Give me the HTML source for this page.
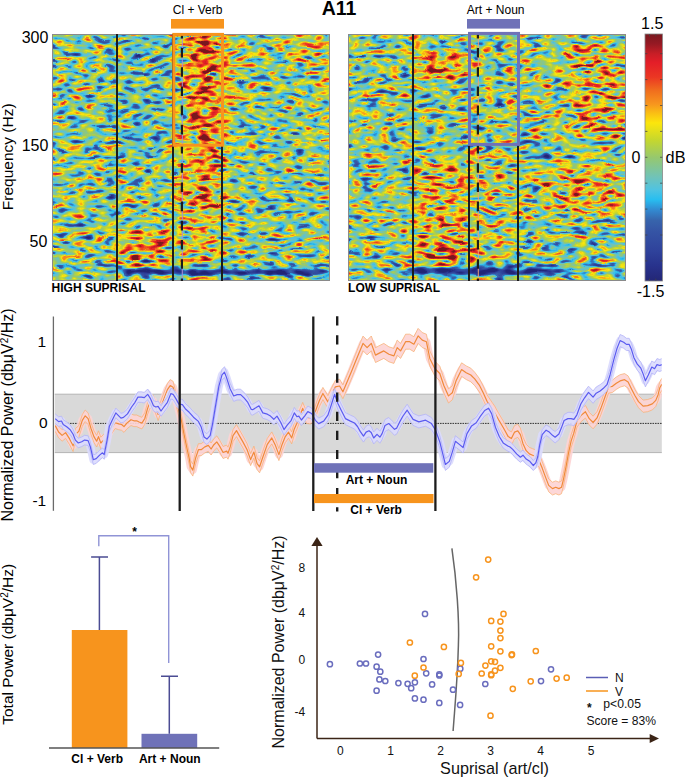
<!DOCTYPE html>
<html><head><meta charset="utf-8"><style>
html,body{margin:0;padding:0;background:#fff;overflow:hidden;width:685px;height:779px;}
svg{display:block;}
text{font-family:"Liberation Sans", sans-serif;}
</style></head><body>
<svg width="685" height="779" viewBox="0 0 685 779">
<defs>
<filter id="sp1" filterUnits="userSpaceOnUse" x="32" y="14" width="318" height="287" color-interpolation-filters="sRGB">
<feGaussianBlur in="SourceGraphic" stdDeviation="10 1.5" result="bias"/>
<feTurbulence type="fractalNoise" baseFrequency="0.085 0.25" numOctaves="1" seed="7" result="n1"/>
<feTurbulence type="fractalNoise" baseFrequency="0.105 0.22" numOctaves="1" seed="18" result="n2"/>
<feComposite in="n1" in2="n2" operator="arithmetic" k1="0" k2="0.5" k3="0.5" k4="0" result="n0"/>
<feTurbulence type="fractalNoise" baseFrequency="0.02 0.045" numOctaves="1" seed="12" result="w"/>
<feDisplacementMap in="n0" in2="w" scale="7" xChannelSelector="R" yChannelSelector="G" result="nd"/>
<feGaussianBlur in="nd" stdDeviation="0.7" result="n"/>
<feColorMatrix in="n" type="matrix" values="1 0 0 0 0  1 0 0 0 0  1 0 0 0 0  0 0 0 0 1" result="ng"/>
<feComposite in="ng" in2="bias" operator="arithmetic" k1="2.0" k2="0.95" k3="0.0" k4="-0.475" result="v"/>
<feComponentTransfer in="v"><feFuncR type="table" tableValues="0.137 0.141 0.144 0.147 0.150 0.154 0.157 0.161 0.166 0.171 0.175 0.180 0.184 0.187 0.190 0.193 0.196 0.199 0.202 0.205 0.208 0.210 0.211 0.213 0.215 0.214 0.209 0.205 0.200 0.196 0.186 0.176 0.167 0.157 0.196 0.235 0.275 0.314 0.339 0.364 0.389 0.414 0.439 0.458 0.476 0.495 0.514 0.532 0.551 0.570 0.588 0.615 0.641 0.667 0.694 0.720 0.746 0.773 0.803 0.834 0.865 0.896 0.927 0.957 0.988 0.986 0.984 0.982 0.980 0.977 0.974 0.971 0.967 0.962 0.957 0.952 0.947 0.942 0.938 0.934 0.931 0.927 0.923 0.919 0.915 0.910 0.906 0.901 0.896 0.878 0.847 0.816 0.784 0.735 0.686 0.637 0.588 0.561 0.533 0.506 0.478"/><feFuncG type="table" tableValues="0.149 0.157 0.165 0.173 0.180 0.188 0.196 0.207 0.217 0.227 0.238 0.248 0.259 0.268 0.276 0.285 0.294 0.303 0.312 0.321 0.329 0.343 0.357 0.371 0.385 0.410 0.444 0.479 0.514 0.549 0.598 0.647 0.696 0.745 0.750 0.755 0.760 0.765 0.765 0.765 0.765 0.765 0.765 0.767 0.770 0.772 0.775 0.777 0.779 0.782 0.784 0.793 0.801 0.810 0.818 0.826 0.835 0.843 0.852 0.860 0.868 0.877 0.885 0.894 0.902 0.863 0.824 0.784 0.745 0.702 0.658 0.614 0.577 0.548 0.520 0.491 0.463 0.434 0.395 0.355 0.316 0.276 0.236 0.208 0.191 0.175 0.158 0.142 0.126 0.118 0.118 0.118 0.118 0.113 0.108 0.103 0.098 0.097 0.096 0.095 0.094"/><feFuncB type="table" tableValues="0.463 0.477 0.492 0.506 0.520 0.535 0.549 0.559 0.569 0.578 0.588 0.598 0.608 0.613 0.618 0.623 0.627 0.632 0.637 0.642 0.647 0.653 0.659 0.665 0.671 0.691 0.724 0.757 0.790 0.824 0.853 0.882 0.912 0.941 0.926 0.912 0.897 0.882 0.851 0.820 0.788 0.757 0.725 0.689 0.652 0.615 0.578 0.542 0.505 0.468 0.431 0.396 0.360 0.324 0.288 0.252 0.216 0.180 0.161 0.142 0.123 0.104 0.085 0.066 0.047 0.055 0.063 0.071 0.078 0.089 0.100 0.111 0.118 0.118 0.118 0.118 0.118 0.118 0.121 0.125 0.128 0.132 0.135 0.139 0.142 0.145 0.149 0.152 0.155 0.156 0.154 0.151 0.149 0.146 0.143 0.140 0.137 0.132 0.127 0.123 0.118"/><feFuncA type="linear" slope="0" intercept="1"/></feComponentTransfer>
</filter>
<filter id="sp2" filterUnits="userSpaceOnUse" x="328" y="14" width="318" height="287" color-interpolation-filters="sRGB">
<feGaussianBlur in="SourceGraphic" stdDeviation="10 1.5" result="bias"/>
<feTurbulence type="fractalNoise" baseFrequency="0.085 0.25" numOctaves="1" seed="23" result="n1"/>
<feTurbulence type="fractalNoise" baseFrequency="0.105 0.22" numOctaves="1" seed="34" result="n2"/>
<feComposite in="n1" in2="n2" operator="arithmetic" k1="0" k2="0.5" k3="0.5" k4="0" result="n0"/>
<feTurbulence type="fractalNoise" baseFrequency="0.02 0.045" numOctaves="1" seed="28" result="w"/>
<feDisplacementMap in="n0" in2="w" scale="7" xChannelSelector="R" yChannelSelector="G" result="nd"/>
<feGaussianBlur in="nd" stdDeviation="0.7" result="n"/>
<feColorMatrix in="n" type="matrix" values="1 0 0 0 0  1 0 0 0 0  1 0 0 0 0  0 0 0 0 1" result="ng"/>
<feComposite in="ng" in2="bias" operator="arithmetic" k1="2.0" k2="0.95" k3="0.0" k4="-0.475" result="v"/>
<feComponentTransfer in="v"><feFuncR type="table" tableValues="0.137 0.141 0.144 0.147 0.150 0.154 0.157 0.161 0.166 0.171 0.175 0.180 0.184 0.187 0.190 0.193 0.196 0.199 0.202 0.205 0.208 0.210 0.211 0.213 0.215 0.214 0.209 0.205 0.200 0.196 0.186 0.176 0.167 0.157 0.196 0.235 0.275 0.314 0.339 0.364 0.389 0.414 0.439 0.458 0.476 0.495 0.514 0.532 0.551 0.570 0.588 0.615 0.641 0.667 0.694 0.720 0.746 0.773 0.803 0.834 0.865 0.896 0.927 0.957 0.988 0.986 0.984 0.982 0.980 0.977 0.974 0.971 0.967 0.962 0.957 0.952 0.947 0.942 0.938 0.934 0.931 0.927 0.923 0.919 0.915 0.910 0.906 0.901 0.896 0.878 0.847 0.816 0.784 0.735 0.686 0.637 0.588 0.561 0.533 0.506 0.478"/><feFuncG type="table" tableValues="0.149 0.157 0.165 0.173 0.180 0.188 0.196 0.207 0.217 0.227 0.238 0.248 0.259 0.268 0.276 0.285 0.294 0.303 0.312 0.321 0.329 0.343 0.357 0.371 0.385 0.410 0.444 0.479 0.514 0.549 0.598 0.647 0.696 0.745 0.750 0.755 0.760 0.765 0.765 0.765 0.765 0.765 0.765 0.767 0.770 0.772 0.775 0.777 0.779 0.782 0.784 0.793 0.801 0.810 0.818 0.826 0.835 0.843 0.852 0.860 0.868 0.877 0.885 0.894 0.902 0.863 0.824 0.784 0.745 0.702 0.658 0.614 0.577 0.548 0.520 0.491 0.463 0.434 0.395 0.355 0.316 0.276 0.236 0.208 0.191 0.175 0.158 0.142 0.126 0.118 0.118 0.118 0.118 0.113 0.108 0.103 0.098 0.097 0.096 0.095 0.094"/><feFuncB type="table" tableValues="0.463 0.477 0.492 0.506 0.520 0.535 0.549 0.559 0.569 0.578 0.588 0.598 0.608 0.613 0.618 0.623 0.627 0.632 0.637 0.642 0.647 0.653 0.659 0.665 0.671 0.691 0.724 0.757 0.790 0.824 0.853 0.882 0.912 0.941 0.926 0.912 0.897 0.882 0.851 0.820 0.788 0.757 0.725 0.689 0.652 0.615 0.578 0.542 0.505 0.468 0.431 0.396 0.360 0.324 0.288 0.252 0.216 0.180 0.161 0.142 0.123 0.104 0.085 0.066 0.047 0.055 0.063 0.071 0.078 0.089 0.100 0.111 0.118 0.118 0.118 0.118 0.118 0.118 0.121 0.125 0.128 0.132 0.135 0.139 0.142 0.145 0.149 0.152 0.155 0.156 0.154 0.151 0.149 0.146 0.143 0.140 0.137 0.132 0.127 0.123 0.118"/><feFuncA type="linear" slope="0" intercept="1"/></feComponentTransfer>
</filter>
<linearGradient id="cbar" x1="0" y1="1" x2="0" y2="0">
<stop offset="0.0" stop-color="rgb(35,38,118)"/><stop offset="0.06" stop-color="rgb(40,50,140)"/><stop offset="0.12" stop-color="rgb(47,66,155)"/><stop offset="0.2" stop-color="rgb(53,84,165)"/><stop offset="0.245" stop-color="rgb(55,100,172)"/><stop offset="0.29" stop-color="rgb(50,140,210)"/><stop offset="0.33" stop-color="rgb(40,190,240)"/><stop offset="0.37" stop-color="rgb(80,195,225)"/><stop offset="0.42" stop-color="rgb(112,195,185)"/><stop offset="0.5" stop-color="rgb(150,200,110)"/><stop offset="0.57" stop-color="rgb(197,215,46)"/><stop offset="0.64" stop-color="rgb(252,230,12)"/><stop offset="0.68" stop-color="rgb(250,190,20)"/><stop offset="0.716" stop-color="rgb(247,150,30)"/><stop offset="0.771" stop-color="rgb(240,110,30)"/><stop offset="0.825" stop-color="rgb(235,55,35)"/><stop offset="0.885" stop-color="rgb(228,30,40)"/><stop offset="0.92" stop-color="rgb(200,30,38)"/><stop offset="0.96" stop-color="rgb(150,25,35)"/><stop offset="1.0" stop-color="rgb(122,24,30)"/>
</linearGradient>
<clipPath id="c1"><rect x="52" y="34" width="278" height="247"/></clipPath>
<clipPath id="cm"><rect x="55" y="300" width="606.8" height="220"/></clipPath>
<clipPath id="c2"><rect x="348" y="34" width="278" height="247"/></clipPath>
</defs>
<rect width="685" height="779" fill="#fff"/>

<!-- spectrogram 1 -->
<g clip-path="url(#c1)"><g filter="url(#sp1)"><rect x="32" y="14" width="318" height="287" fill="rgb(121,121,121)"/>
<rect x="117" y="34" width="57" height="125" fill="rgb(105,105,105)"/>
<rect x="117" y="229" width="55" height="36" fill="rgb(168,168,168)"/>
<rect x="174" y="34" width="13" height="200" fill="rgb(128,128,128)"/>
<rect x="187" y="34" width="35" height="115" fill="rgb(201,201,201)"/>
<rect x="180" y="149" width="42" height="60" fill="rgb(181,181,181)"/>
<rect x="180" y="209" width="42" height="56" fill="rgb(153,153,153)"/>
<rect x="222" y="39" width="25" height="65" fill="rgb(145,145,145)"/>
<rect x="292" y="34" width="38" height="28" fill="rgb(158,158,158)"/>
<rect x="247" y="74" width="83" height="160" fill="rgb(117,117,117)"/>
<rect x="304" y="64" width="26" height="110" fill="rgb(133,133,133)"/>
<rect x="52" y="114" width="65" height="30" fill="rgb(115,115,115)"/>
<rect x="117" y="269" width="213" height="6" fill="rgb(10,10,10)"/>
<rect x="117" y="275" width="213" height="10" fill="rgb(128,128,128)"/></g></g>
<rect x="52.5" y="34.5" width="277" height="246" fill="none" stroke="#8a8a8a" stroke-width="1"/>
<line x1="117" y1="34" x2="117" y2="281" stroke="#1c1c1c" stroke-width="2"/>
<line x1="173" y1="34" x2="173" y2="281" stroke="#1c1c1c" stroke-width="2"/>
<line x1="222" y1="34" x2="222" y2="281" stroke="#1c1c1c" stroke-width="2"/>
<line x1="182.3" y1="34" x2="182.3" y2="281" stroke="#a88fd6" stroke-width="1"/>
<line x1="181.9" y1="34" x2="181.9" y2="281" stroke="#1c1c1c" stroke-width="2.2" stroke-dasharray="9.6 9.6" stroke-dashoffset="5.2"/>
<rect x="173.8" y="34.4" width="48.7" height="110.8" fill="none" stroke="#f7941d" stroke-width="3"/>
<rect x="171" y="19" width="53" height="9.6" fill="#f7941d"/>
<text x="197.6" y="14.2" font-size="12" text-anchor="middle" fill="#000">Cl + Verb</text>

<!-- spectrogram 2 -->
<g clip-path="url(#c2)"><g filter="url(#sp2)"><rect x="328" y="14" width="318" height="287" fill="rgb(122,122,122)"/>
<rect x="413" y="52" width="57" height="28" fill="rgb(173,173,173)"/>
<rect x="413" y="164" width="57" height="100" fill="rgb(161,161,161)"/>
<rect x="418" y="246" width="55" height="16" fill="rgb(189,189,189)"/>
<rect x="470" y="34" width="48" height="110" fill="rgb(122,122,122)"/>
<rect x="470" y="144" width="48" height="120" fill="rgb(138,138,138)"/>
<rect x="570" y="44" width="56" height="95" fill="rgb(163,163,163)"/>
<rect x="520" y="44" width="50" height="95" fill="rgb(128,128,128)"/>
<rect x="518" y="140" width="27" height="25" fill="rgb(92,92,92)"/>
<rect x="543" y="164" width="83" height="50" fill="rgb(161,161,161)"/>
<rect x="518" y="219" width="108" height="46" fill="rgb(117,117,117)"/>
<rect x="406" y="268" width="160" height="7" fill="rgb(10,10,10)"/>
<rect x="470" y="263" width="50" height="6" fill="rgb(64,64,64)"/>
<rect x="406" y="275" width="160" height="10" fill="rgb(128,128,128)"/></g></g>
<rect x="348.5" y="34.5" width="277" height="246" fill="none" stroke="#8a8a8a" stroke-width="1"/>
<line x1="413" y1="34" x2="413" y2="281" stroke="#1c1c1c" stroke-width="2"/>
<line x1="469" y1="34" x2="469" y2="281" stroke="#1c1c1c" stroke-width="2"/>
<line x1="518" y1="34" x2="518" y2="281" stroke="#1c1c1c" stroke-width="2"/>
<line x1="478.3" y1="34" x2="478.3" y2="281" stroke="#e9a27a" stroke-width="1"/>
<line x1="477.9" y1="34" x2="477.9" y2="281" stroke="#1c1c1c" stroke-width="2.2" stroke-dasharray="9.6 9.6" stroke-dashoffset="5.2"/>
<rect x="469.5" y="33.4" width="49" height="111" fill="none" stroke="#6f72b8" stroke-width="3"/>
<rect x="467" y="19" width="53" height="9.6" fill="#6f72b8"/>
<text x="495.7" y="14" font-size="12" text-anchor="middle" fill="#000">Art + Noun</text>

<text x="339" y="15" font-size="19.5" font-weight="bold" text-anchor="middle" fill="#000">A11</text>

<!-- colorbar -->
<rect x="645" y="34" width="17.5" height="247" fill="url(#cbar)" stroke="#888" stroke-width="0.8"/>
<line x1="645.2" y1="53.7" x2="647.4" y2="53.7" stroke="#444" stroke-width="0.8"/>
<line x1="660.1" y1="53.7" x2="662.3" y2="53.7" stroke="#444" stroke-width="0.8"/>
<line x1="645.2" y1="79.6" x2="647.4" y2="79.6" stroke="#444" stroke-width="0.8"/>
<line x1="660.1" y1="79.6" x2="662.3" y2="79.6" stroke="#444" stroke-width="0.8"/>
<line x1="645.2" y1="105.5" x2="647.4" y2="105.5" stroke="#444" stroke-width="0.8"/>
<line x1="660.1" y1="105.5" x2="662.3" y2="105.5" stroke="#444" stroke-width="0.8"/>
<line x1="645.2" y1="131.4" x2="647.4" y2="131.4" stroke="#444" stroke-width="0.8"/>
<line x1="660.1" y1="131.4" x2="662.3" y2="131.4" stroke="#444" stroke-width="0.8"/>
<line x1="645.2" y1="157.3" x2="647.4" y2="157.3" stroke="#444" stroke-width="0.8"/>
<line x1="660.1" y1="157.3" x2="662.3" y2="157.3" stroke="#444" stroke-width="0.8"/>
<line x1="645.2" y1="183.2" x2="647.4" y2="183.2" stroke="#444" stroke-width="0.8"/>
<line x1="660.1" y1="183.2" x2="662.3" y2="183.2" stroke="#444" stroke-width="0.8"/>
<line x1="645.2" y1="209.1" x2="647.4" y2="209.1" stroke="#444" stroke-width="0.8"/>
<line x1="660.1" y1="209.1" x2="662.3" y2="209.1" stroke="#444" stroke-width="0.8"/>
<line x1="645.2" y1="235.0" x2="647.4" y2="235.0" stroke="#444" stroke-width="0.8"/>
<line x1="660.1" y1="235.0" x2="662.3" y2="235.0" stroke="#444" stroke-width="0.8"/>
<line x1="645.2" y1="260.9" x2="647.4" y2="260.9" stroke="#444" stroke-width="0.8"/>
<line x1="660.1" y1="260.9" x2="662.3" y2="260.9" stroke="#444" stroke-width="0.8"/>
<line x1="649.5" y1="34.4" x2="649.5" y2="36.4" stroke="#444" stroke-width="0.8"/>
<line x1="649.5" y1="278.6" x2="649.5" y2="280.6" stroke="#444" stroke-width="0.8"/>
<line x1="655.8" y1="34.4" x2="655.8" y2="36.4" stroke="#444" stroke-width="0.8"/>
<line x1="655.8" y1="278.6" x2="655.8" y2="280.6" stroke="#444" stroke-width="0.8"/>
<text x="652.2" y="28.8" font-size="16" text-anchor="middle" fill="#000">1.5</text>
<text x="650.5" y="296.8" font-size="16" text-anchor="middle" fill="#000">-1.5</text>
<text x="640.4" y="162.6" font-size="16" text-anchor="end" fill="#000">0</text>
<text x="665.6" y="162.6" font-size="16.3" fill="#000">dB</text>

<!-- spectrogram y labels -->
<text x="48.4" y="42.6" font-size="16" text-anchor="end" fill="#000">300</text>
<text x="48.4" y="151.4" font-size="16" text-anchor="end" fill="#000">150</text>
<text x="47.4" y="246.9" font-size="16" text-anchor="end" fill="#000">50</text>
<text transform="translate(12.6,156.8) rotate(-90)" font-size="15.5" text-anchor="middle" fill="#000">Frequency (Hz)</text>
<text x="51.6" y="292.2" font-size="12" font-weight="bold" fill="#000">HIGH SUPRISAL</text>
<text x="348.1" y="292.3" font-size="12" font-weight="bold" fill="#000">LOW SUPRISAL</text>

<!-- middle line plot -->
<rect x="54.8" y="394.2" width="607" height="58.4" fill="#d9d9d9"/>
<line x1="54.8" y1="394.2" x2="661.8" y2="394.2" stroke="#b4b4b4" stroke-width="1"/>
<line x1="54.8" y1="452.6" x2="661.8" y2="452.6" stroke="#b4b4b4" stroke-width="1"/>
<line x1="55" y1="423.4" x2="662" y2="423.4" stroke="#333" stroke-width="1" stroke-dasharray="1.6 0.9"/>
<line x1="53.4" y1="316.5" x2="53.4" y2="510.8" stroke="#6a6a6a" stroke-width="1.3"/>
<text x="46" y="346.7" font-size="15.5" text-anchor="end" fill="#000">1</text>
<text x="47.5" y="428.2" font-size="15.5" text-anchor="end" fill="#000">0</text>
<text x="46.2" y="506" font-size="15.5" text-anchor="end" fill="#000">-1</text>
<text transform="translate(12.6,415) rotate(-90)" font-size="16" text-anchor="middle" fill="#000">Normalized Power (dbμV<tspan font-size="10" dy="-5">2</tspan><tspan dy="5">/Hz)</tspan></text>
<g clip-path="url(#cm)"><g opacity="0.92"><polygon points="55.2,419.8 58.6,426.2 62.1,429.6 65.6,426.8 69.6,433.1 73.1,440.0 75.4,428.5 78.8,425.6 82.3,414.6 85.2,410.0 88.1,412.9 91.0,422.7 93.9,430.8 96.7,435.4 98.5,430.8 100.8,437.2 103.7,434.3 106.0,436.6 108.3,428.5 111.2,422.7 115.2,416.9 118.7,418.1 121.6,418.7 124.0,420.8 126.9,417.3 131.0,413.9 133.9,415.0 136.7,415.0 139.1,416.2 141.9,417.3 144.8,412.7 147.7,402.3 150.0,396.4 152.9,394.7 155.8,402.2 158.1,408.5 160.4,402.1 163.9,392.9 167.4,383.6 170.2,379.6 173.1,381.3 175.4,390.6 178.3,402.1 181.2,413.7 184.1,428.7 187.0,442.5 189.3,452.9 190.6,460.6 192.8,464.1 195.6,452.1 198.4,443.7 201.2,443.7 204.8,440.9 208.3,439.4 211.1,443.0 213.9,438.7 216.8,435.9 219.6,440.1 223.1,446.5 226.6,445.1 228.0,447.2 230.2,440.9 233.0,429.6 236.5,424.6 239.3,429.6 242.9,435.9 247.1,443.7 250.6,453.6 253.9,446.1 257.1,457.6 259.6,460.8 262.8,451.2 267.3,438.4 271.8,431.9 275.0,438.4 278.9,448.6 282.1,438.4 285.3,430.6 288.5,426.2 291.7,431.9 294.3,422.9 296.9,417.2 300.1,408.8 302.7,402.4 306.5,411.4 310.4,412.0 314.2,408.8 317.4,399.8 319.5,394.2 322.9,387.4 327.9,395.6 331.2,388.8 335.4,380.2 339.6,379.2 342.9,384.9 347.9,373.1 352.1,363.0 355.4,354.7 358.8,346.2 363.0,336.1 367.1,340.3 371.3,336.0 375.5,347.7 378.8,345.9 383.8,343.4 388.9,346.8 393.9,348.4 397.2,340.1 400.6,343.4 405.6,334.2 409.7,334.2 413.9,336.7 418.1,328.4 422.3,332.6 426.4,334.2 429.8,350.9 434.8,361.1 439.8,366.2 443.9,378.6 448.5,388.8 452.3,385.8 456.2,373.5 461.6,362.8 466.2,365.9 470.8,368.2 474.7,372.2 479.3,378.4 483.2,386.1 487.0,394.6 490.9,400.7 494.7,406.1 498.6,413.2 503.2,420.9 505.0,424.2 508.2,430.0 511.4,431.9 514.6,425.5 517.8,424.2 520.4,428.1 523.0,437.2 526.2,444.2 529.4,447.4 532.6,448.7 535.8,450.0 539.0,453.9 542.2,461.6 545.5,470.6 548.7,479.0 552.5,482.2 555.7,480.9 558.9,482.2 561.5,480.9 563.4,473.2 566.0,460.4 568.6,446.3 571.1,434.7 573.7,427.1 576.9,414.7 580.8,409.3 585.4,405.4 589.3,412.4 593.1,416.2 597.0,411.6 600.8,402.4 604.7,391.6 608.5,380.8 612.4,380.1 616.3,377.0 620.1,374.7 624.6,373.6 628.1,375.9 631.5,382.8 635.0,389.7 638.5,395.5 643.1,400.1 647.7,399.5 652.3,397.9 655.8,394.4 658.1,388.7 659.8,381.7 661.8,378.3 661.8,390.3 659.8,393.7 658.1,400.7 655.8,406.4 652.3,409.9 647.7,411.7 643.1,412.3 638.5,407.7 635.0,401.9 631.5,395.0 628.1,388.1 624.6,385.8 620.1,387.1 616.3,389.4 612.4,392.5 608.5,393.2 604.7,404.0 600.8,414.8 597.0,424.2 593.1,428.8 589.3,425.0 585.4,418.0 580.8,421.9 576.9,427.3 573.7,439.7 571.1,447.5 568.6,459.1 566.0,473.2 563.4,486.0 561.5,493.7 558.9,495.0 555.7,493.7 552.5,495.0 548.7,491.8 545.5,483.6 542.2,474.6 539.0,466.9 535.8,463.0 532.6,461.7 529.4,460.4 526.2,457.2 523.0,450.2 520.4,441.3 517.8,437.4 514.6,438.7 511.4,445.1 508.2,443.2 505.0,437.4 503.2,434.1 498.6,426.4 494.7,419.5 490.9,414.1 487.0,408.0 483.2,399.5 479.3,391.8 474.7,385.6 470.8,381.8 466.2,379.5 461.6,376.4 456.2,387.3 452.3,399.8 448.5,403.0 443.9,393.0 439.8,380.8 434.8,375.9 429.8,365.9 426.4,349.2 422.3,347.6 418.1,343.4 413.9,351.7 409.7,349.2 405.6,349.2 400.6,358.4 397.2,355.1 393.9,363.4 388.9,361.8 383.8,358.4 378.8,360.9 375.5,362.5 371.3,350.8 367.1,354.9 363.0,350.7 358.8,360.6 355.4,368.9 352.1,377.2 347.9,387.1 342.9,398.7 339.6,392.8 335.4,393.4 331.2,401.6 327.9,408.2 322.9,399.6 319.5,406.2 317.4,411.8 314.2,420.8 310.4,424.0 306.5,423.4 302.7,414.4 300.1,420.8 296.9,429.2 294.3,434.9 291.7,443.9 288.5,438.2 285.3,442.6 282.1,450.4 278.9,460.6 275.0,450.4 271.8,443.9 267.3,450.4 262.8,463.2 259.6,472.8 257.1,469.6 253.9,458.1 250.6,465.6 247.1,455.7 242.9,447.9 239.3,441.6 236.5,436.6 233.0,441.6 230.2,452.9 228.0,459.2 226.6,457.1 223.1,458.5 219.6,452.1 216.8,447.9 213.9,450.7 211.1,455.0 208.3,451.4 204.8,452.9 201.2,455.7 198.4,455.7 195.6,464.1 192.8,476.1 190.6,472.6 189.3,464.9 187.0,454.5 184.1,440.7 181.2,425.7 178.3,414.1 175.4,402.6 173.1,393.3 170.2,391.6 167.4,395.6 163.9,404.9 160.4,414.1 158.1,420.5 155.8,414.0 152.9,406.5 150.0,408.2 147.7,413.9 144.8,424.3 141.9,428.9 139.1,427.8 136.7,426.6 133.9,426.6 131.0,425.5 126.9,428.9 124.0,432.4 121.6,430.3 118.7,429.7 115.2,428.5 111.2,434.3 108.3,440.1 106.0,448.2 103.7,445.9 100.8,448.8 98.5,442.4 96.7,447.0 93.9,442.4 91.0,434.3 88.1,424.5 85.2,421.6 82.3,426.2 78.8,437.2 75.4,440.1 73.1,451.6 69.6,444.7 65.6,438.4 62.1,441.2 58.6,437.8 55.2,431.4" fill="#fdd4d4"/><polyline points="55.2,425.6 58.6,432.0 62.1,435.4 65.6,432.6 69.6,438.9 73.1,445.8 75.4,434.3 78.8,431.4 82.3,420.4 85.2,415.8 88.1,418.7 91.0,428.5 93.9,436.6 96.7,441.2 98.5,436.6 100.8,443.0 103.7,440.1 106.0,442.4 108.3,434.3 111.2,428.5 115.2,422.7 118.7,423.9 121.6,424.5 124.0,426.6 126.9,423.1 131.0,419.7 133.9,420.8 136.7,420.8 139.1,422.0 141.9,423.1 144.8,418.5 147.7,408.1 150.0,402.3 152.9,400.6 155.8,408.1 158.1,414.5 160.4,408.1 163.9,398.9 167.4,389.6 170.2,385.6 173.1,387.3 175.4,396.6 178.3,408.1 181.2,419.7 184.1,434.7 187.0,448.5 189.3,458.9 190.6,466.6 192.8,470.1 195.6,458.1 198.4,449.7 201.2,449.7 204.8,446.9 208.3,445.4 211.1,449.0 213.9,444.7 216.8,441.9 219.6,446.1 223.1,452.5 226.6,451.1 228.0,453.2 230.2,446.9 233.0,435.6 236.5,430.6 239.3,435.6 242.9,441.9 247.1,449.7 250.6,459.6 253.9,452.1 257.1,463.6 259.6,466.8 262.8,457.2 267.3,444.4 271.8,437.9 275.0,444.4 278.9,454.6 282.1,444.4 285.3,436.6 288.5,432.2 291.7,437.9 294.3,428.9 296.9,423.2 300.1,414.8 302.7,408.4 306.5,417.4 310.4,418.0 314.2,414.8 317.4,405.8 319.5,400.2 322.9,393.5 327.9,401.9 331.2,395.2 335.4,386.8 339.6,386.0 342.9,391.8 347.9,380.1 352.1,370.1 355.4,361.8 358.8,353.4 363.0,343.4 367.1,347.6 371.3,343.4 375.5,355.1 378.8,353.4 383.8,350.9 388.9,354.3 393.9,355.9 397.2,347.6 400.6,350.9 405.6,341.7 409.7,341.7 413.9,344.2 418.1,335.9 422.3,340.1 426.4,341.7 429.8,358.4 434.8,368.5 439.8,373.5 443.9,385.8 448.5,395.9 452.3,392.8 456.2,380.4 461.6,369.6 466.2,372.7 470.8,375.0 474.7,378.9 479.3,385.1 483.2,392.8 487.0,401.3 490.9,407.4 494.7,412.8 498.6,419.8 503.2,427.5 505.0,430.8 508.2,436.6 511.4,438.5 514.6,432.1 517.8,430.8 520.4,434.7 523.0,443.7 526.2,450.7 529.4,453.9 532.6,455.2 535.8,456.5 539.0,460.4 542.2,468.1 545.5,477.1 548.7,485.4 552.5,488.6 555.7,487.3 558.9,488.6 561.5,487.3 563.4,479.6 566.0,466.8 568.6,452.7 571.1,441.1 573.7,433.4 576.9,421.0 580.8,415.6 585.4,411.7 589.3,418.7 593.1,422.5 597.0,417.9 600.8,408.6 604.7,397.8 608.5,387.0 612.4,386.3 616.3,383.2 620.1,380.9 624.6,379.7 628.1,382.0 631.5,388.9 635.0,395.8 638.5,401.6 643.1,406.2 647.7,405.6 652.3,403.9 655.8,400.4 658.1,394.7 659.8,387.7 661.8,384.3" fill="none" stroke="#fdd4d4" stroke-width="8" stroke-linejoin="round"/></g>
<polyline points="55.2,419.8 58.6,426.2 62.1,429.6 65.6,426.8 69.6,433.1 73.1,440.0 75.4,428.5 78.8,425.6 82.3,414.6 85.2,410.0 88.1,412.9 91.0,422.7 93.9,430.8 96.7,435.4 98.5,430.8 100.8,437.2 103.7,434.3 106.0,436.6 108.3,428.5 111.2,422.7 115.2,416.9 118.7,418.1 121.6,418.7 124.0,420.8 126.9,417.3 131.0,413.9 133.9,415.0 136.7,415.0 139.1,416.2 141.9,417.3 144.8,412.7 147.7,402.3 150.0,396.4 152.9,394.7 155.8,402.2 158.1,408.5 160.4,402.1 163.9,392.9 167.4,383.6 170.2,379.6 173.1,381.3 175.4,390.6 178.3,402.1 181.2,413.7 184.1,428.7 187.0,442.5 189.3,452.9 190.6,460.6 192.8,464.1 195.6,452.1 198.4,443.7 201.2,443.7 204.8,440.9 208.3,439.4 211.1,443.0 213.9,438.7 216.8,435.9 219.6,440.1 223.1,446.5 226.6,445.1 228.0,447.2 230.2,440.9 233.0,429.6 236.5,424.6 239.3,429.6 242.9,435.9 247.1,443.7 250.6,453.6 253.9,446.1 257.1,457.6 259.6,460.8 262.8,451.2 267.3,438.4 271.8,431.9 275.0,438.4 278.9,448.6 282.1,438.4 285.3,430.6 288.5,426.2 291.7,431.9 294.3,422.9 296.9,417.2 300.1,408.8 302.7,402.4 306.5,411.4 310.4,412.0 314.2,408.8 317.4,399.8 319.5,394.2 322.9,387.4 327.9,395.6 331.2,388.8 335.4,380.2 339.6,379.2 342.9,384.9 347.9,373.1 352.1,363.0 355.4,354.7 358.8,346.2 363.0,336.1 367.1,340.3 371.3,336.0 375.5,347.7 378.8,345.9 383.8,343.4 388.9,346.8 393.9,348.4 397.2,340.1 400.6,343.4 405.6,334.2 409.7,334.2 413.9,336.7 418.1,328.4 422.3,332.6 426.4,334.2 429.8,350.9 434.8,361.1 439.8,366.2 443.9,378.6 448.5,388.8 452.3,385.8 456.2,373.5 461.6,362.8 466.2,365.9 470.8,368.2 474.7,372.2 479.3,378.4 483.2,386.1 487.0,394.6 490.9,400.7 494.7,406.1 498.6,413.2 503.2,420.9 505.0,424.2 508.2,430.0 511.4,431.9 514.6,425.5 517.8,424.2 520.4,428.1 523.0,437.2 526.2,444.2 529.4,447.4 532.6,448.7 535.8,450.0 539.0,453.9 542.2,461.6 545.5,470.6 548.7,479.0 552.5,482.2 555.7,480.9 558.9,482.2 561.5,480.9 563.4,473.2 566.0,460.4 568.6,446.3 571.1,434.7 573.7,427.1 576.9,414.7 580.8,409.3 585.4,405.4 589.3,412.4 593.1,416.2 597.0,411.6 600.8,402.4 604.7,391.6 608.5,380.8 612.4,380.1 616.3,377.0 620.1,374.7 624.6,373.6 628.1,375.9 631.5,382.8 635.0,389.7 638.5,395.5 643.1,400.1 647.7,399.5 652.3,397.9 655.8,394.4 658.1,388.7 659.8,381.7 661.8,378.3" fill="none" stroke="#f7b27a" stroke-width="0.8" stroke-linejoin="round"/>
<polyline points="55.2,431.4 58.6,437.8 62.1,441.2 65.6,438.4 69.6,444.7 73.1,451.6 75.4,440.1 78.8,437.2 82.3,426.2 85.2,421.6 88.1,424.5 91.0,434.3 93.9,442.4 96.7,447.0 98.5,442.4 100.8,448.8 103.7,445.9 106.0,448.2 108.3,440.1 111.2,434.3 115.2,428.5 118.7,429.7 121.6,430.3 124.0,432.4 126.9,428.9 131.0,425.5 133.9,426.6 136.7,426.6 139.1,427.8 141.9,428.9 144.8,424.3 147.7,413.9 150.0,408.2 152.9,406.5 155.8,414.0 158.1,420.5 160.4,414.1 163.9,404.9 167.4,395.6 170.2,391.6 173.1,393.3 175.4,402.6 178.3,414.1 181.2,425.7 184.1,440.7 187.0,454.5 189.3,464.9 190.6,472.6 192.8,476.1 195.6,464.1 198.4,455.7 201.2,455.7 204.8,452.9 208.3,451.4 211.1,455.0 213.9,450.7 216.8,447.9 219.6,452.1 223.1,458.5 226.6,457.1 228.0,459.2 230.2,452.9 233.0,441.6 236.5,436.6 239.3,441.6 242.9,447.9 247.1,455.7 250.6,465.6 253.9,458.1 257.1,469.6 259.6,472.8 262.8,463.2 267.3,450.4 271.8,443.9 275.0,450.4 278.9,460.6 282.1,450.4 285.3,442.6 288.5,438.2 291.7,443.9 294.3,434.9 296.9,429.2 300.1,420.8 302.7,414.4 306.5,423.4 310.4,424.0 314.2,420.8 317.4,411.8 319.5,406.2 322.9,399.6 327.9,408.2 331.2,401.6 335.4,393.4 339.6,392.8 342.9,398.7 347.9,387.1 352.1,377.2 355.4,368.9 358.8,360.6 363.0,350.7 367.1,354.9 371.3,350.8 375.5,362.5 378.8,360.9 383.8,358.4 388.9,361.8 393.9,363.4 397.2,355.1 400.6,358.4 405.6,349.2 409.7,349.2 413.9,351.7 418.1,343.4 422.3,347.6 426.4,349.2 429.8,365.9 434.8,375.9 439.8,380.8 443.9,393.0 448.5,403.0 452.3,399.8 456.2,387.3 461.6,376.4 466.2,379.5 470.8,381.8 474.7,385.6 479.3,391.8 483.2,399.5 487.0,408.0 490.9,414.1 494.7,419.5 498.6,426.4 503.2,434.1 505.0,437.4 508.2,443.2 511.4,445.1 514.6,438.7 517.8,437.4 520.4,441.3 523.0,450.2 526.2,457.2 529.4,460.4 532.6,461.7 535.8,463.0 539.0,466.9 542.2,474.6 545.5,483.6 548.7,491.8 552.5,495.0 555.7,493.7 558.9,495.0 561.5,493.7 563.4,486.0 566.0,473.2 568.6,459.1 571.1,447.5 573.7,439.7 576.9,427.3 580.8,421.9 585.4,418.0 589.3,425.0 593.1,428.8 597.0,424.2 600.8,414.8 604.7,404.0 608.5,393.2 612.4,392.5 616.3,389.4 620.1,387.1 624.6,385.8 628.1,388.1 631.5,395.0 635.0,401.9 638.5,407.7 643.1,412.3 647.7,411.7 652.3,409.9 655.8,406.4 658.1,400.7 659.8,393.7 661.8,390.3" fill="none" stroke="#f7b27a" stroke-width="0.8" stroke-linejoin="round"/>
<polyline points="55.2,425.6 58.6,432.0 62.1,435.4 65.6,432.6 69.6,438.9 73.1,445.8 75.4,434.3 78.8,431.4 82.3,420.4 85.2,415.8 88.1,418.7 91.0,428.5 93.9,436.6 96.7,441.2 98.5,436.6 100.8,443.0 103.7,440.1 106.0,442.4 108.3,434.3 111.2,428.5 115.2,422.7 118.7,423.9 121.6,424.5 124.0,426.6 126.9,423.1 131.0,419.7 133.9,420.8 136.7,420.8 139.1,422.0 141.9,423.1 144.8,418.5 147.7,408.1 150.0,402.3 152.9,400.6 155.8,408.1 158.1,414.5 160.4,408.1 163.9,398.9 167.4,389.6 170.2,385.6 173.1,387.3 175.4,396.6 178.3,408.1 181.2,419.7 184.1,434.7 187.0,448.5 189.3,458.9 190.6,466.6 192.8,470.1 195.6,458.1 198.4,449.7 201.2,449.7 204.8,446.9 208.3,445.4 211.1,449.0 213.9,444.7 216.8,441.9 219.6,446.1 223.1,452.5 226.6,451.1 228.0,453.2 230.2,446.9 233.0,435.6 236.5,430.6 239.3,435.6 242.9,441.9 247.1,449.7 250.6,459.6 253.9,452.1 257.1,463.6 259.6,466.8 262.8,457.2 267.3,444.4 271.8,437.9 275.0,444.4 278.9,454.6 282.1,444.4 285.3,436.6 288.5,432.2 291.7,437.9 294.3,428.9 296.9,423.2 300.1,414.8 302.7,408.4 306.5,417.4 310.4,418.0 314.2,414.8 317.4,405.8 319.5,400.2 322.9,393.5 327.9,401.9 331.2,395.2 335.4,386.8 339.6,386.0 342.9,391.8 347.9,380.1 352.1,370.1 355.4,361.8 358.8,353.4 363.0,343.4 367.1,347.6 371.3,343.4 375.5,355.1 378.8,353.4 383.8,350.9 388.9,354.3 393.9,355.9 397.2,347.6 400.6,350.9 405.6,341.7 409.7,341.7 413.9,344.2 418.1,335.9 422.3,340.1 426.4,341.7 429.8,358.4 434.8,368.5 439.8,373.5 443.9,385.8 448.5,395.9 452.3,392.8 456.2,380.4 461.6,369.6 466.2,372.7 470.8,375.0 474.7,378.9 479.3,385.1 483.2,392.8 487.0,401.3 490.9,407.4 494.7,412.8 498.6,419.8 503.2,427.5 505.0,430.8 508.2,436.6 511.4,438.5 514.6,432.1 517.8,430.8 520.4,434.7 523.0,443.7 526.2,450.7 529.4,453.9 532.6,455.2 535.8,456.5 539.0,460.4 542.2,468.1 545.5,477.1 548.7,485.4 552.5,488.6 555.7,487.3 558.9,488.6 561.5,487.3 563.4,479.6 566.0,466.8 568.6,452.7 571.1,441.1 573.7,433.4 576.9,421.0 580.8,415.6 585.4,411.7 589.3,418.7 593.1,422.5 597.0,417.9 600.8,408.6 604.7,397.8 608.5,387.0 612.4,386.3 616.3,383.2 620.1,380.9 624.6,379.7 628.1,382.0 631.5,388.9 635.0,395.8 638.5,401.6 643.1,406.2 647.7,405.6 652.3,403.9 655.8,400.4 658.1,394.7 659.8,387.7 661.8,384.3" fill="none" stroke="#f08a3a" stroke-width="1.2" stroke-linejoin="round"/>
<g opacity="0.92"><polygon points="55.2,413.9 58.6,416.8 61.5,416.2 63.2,419.7 66.7,422.0 70.2,424.9 73.1,429.5 75.4,435.3 78.3,438.2 81.7,437.0 84.6,435.3 88.1,435.8 90.4,442.2 93.3,454.9 96.2,453.8 99.6,450.3 102.5,448.0 104.2,449.7 107.1,435.3 109.4,421.4 112.3,415.1 115.8,408.1 118.7,411.0 121.0,413.3 123.5,412.6 127.5,409.0 131.6,402.0 135.0,397.2 137.9,391.9 141.4,391.8 144.3,392.4 147.7,389.0 150.6,393.6 153.5,400.5 155.8,401.7 158.1,401.1 161.0,405.7 163.9,401.7 167.4,397.0 170.8,388.4 173.1,389.0 176.0,393.6 178.9,398.8 182.4,399.4 185.8,403.9 189.2,406.9 193.5,411.8 198.4,416.0 201.2,421.7 204.1,431.6 206.9,433.7 210.1,430.2 212.5,418.9 215.3,401.9 218.9,380.8 222.0,369.5 224.5,366.7 226.6,372.3 230.2,383.6 233.7,390.6 237.2,389.2 240.7,389.2 244.3,392.8 247.8,397.0 251.3,404.1 252.6,404.3 255.8,402.4 259.0,400.4 262.8,407.5 267.3,408.8 270.5,410.7 273.8,413.9 277.0,410.6 280.8,417.0 284.0,424.1 287.2,419.6 291.1,415.1 294.3,407.4 296.9,411.2 298.8,410.6 301.4,414.5 304.6,410.6 307.8,406.1 311.6,408.0 315.4,414.8 318.7,418.1 323.7,415.5 327.9,409.5 331.2,399.4 334.6,388.4 337.9,397.6 341.2,404.2 345.4,412.6 350.4,415.1 354.5,417.0 357.5,420.5 360.2,425.4 363.5,430.1 366.1,426.1 369.0,424.7 371.2,426.5 373.7,432.0 377.0,428.3 379.9,431.2 382.1,427.6 385.0,419.5 388.8,417.5 391.6,420.3 394.5,423.3 396.7,422.1 399.7,415.9 403.0,410.0 407.2,404.2 413.1,413.4 418.9,415.9 425.6,414.2 431.5,417.6 435.6,424.3 439.8,436.0 443.1,449.3 445.4,458.6 449.3,455.6 452.3,446.4 455.4,435.7 459.3,438.9 463.1,442.0 467.0,428.1 471.6,420.5 476.2,417.4 480.1,411.3 484.7,405.2 488.6,402.9 491.6,408.3 495.5,422.2 499.4,431.4 503.2,437.7 507.8,440.8 510.0,441.8 512.7,444.2 516.6,448.8 520.4,452.1 523.0,450.1 526.2,454.0 530.0,456.5 533.3,460.5 535.8,457.9 537.8,451.5 539.7,440.0 542.2,429.6 546.1,424.9 549.3,426.7 552.5,429.8 555.1,431.5 558.9,428.2 561.5,421.7 564.1,414.5 567.9,412.4 571.1,412.3 573.9,413.1 576.9,408.5 580.8,397.7 584.6,391.5 588.5,386.2 593.1,390.9 596.2,387.0 600.1,384.7 603.1,382.4 607.0,378.5 610.1,368.5 613.9,353.1 617.0,342.4 620.1,334.5 623.7,336.1 626.4,338.3 629.2,338.3 631.5,343.5 633.9,351.6 637.3,358.0 640.8,362.0 643.1,367.8 645.4,374.7 648.3,369.0 651.8,361.0 654.6,362.7 657.0,358.6 659.8,359.5 661.8,358.6 661.8,370.6 659.8,371.5 657.0,370.6 654.6,374.7 651.8,373.0 648.3,381.0 645.4,386.9 643.1,380.0 640.8,374.2 637.3,370.2 633.9,363.8 631.5,355.7 629.2,350.5 626.4,350.5 623.7,348.3 620.1,346.7 617.0,354.6 613.9,365.5 610.1,380.9 607.0,390.9 603.1,394.8 600.1,397.1 596.2,399.4 593.1,403.3 588.5,398.6 584.6,404.1 580.8,410.3 576.9,421.1 573.9,425.7 571.1,424.9 567.9,424.8 564.1,426.5 561.5,433.5 558.9,439.8 555.1,442.9 552.5,440.8 549.3,437.5 546.1,435.5 542.2,439.8 539.7,450.0 537.8,461.5 535.8,467.9 533.3,470.5 530.0,466.7 526.2,464.2 523.0,460.3 520.4,462.3 516.6,459.0 512.7,454.6 510.0,452.2 507.8,451.2 503.2,448.1 499.4,442.0 495.5,432.8 491.6,418.9 488.6,413.5 484.7,415.8 480.1,422.1 476.2,428.2 471.6,431.3 467.0,439.1 463.1,453.0 459.3,449.9 455.4,446.9 452.3,457.8 449.3,467.2 445.4,470.4 443.1,461.1 439.8,448.0 435.6,436.3 431.5,429.6 425.6,426.2 418.9,427.9 413.1,425.4 407.2,416.2 403.0,422.0 399.7,427.9 396.7,434.1 394.5,435.3 391.6,432.3 388.8,429.5 385.0,431.5 382.1,439.6 379.9,443.2 377.0,440.3 373.7,444.0 371.2,438.5 369.0,436.7 366.1,438.1 363.5,442.1 360.2,437.4 357.5,432.5 354.5,429.0 350.4,427.1 345.4,424.6 341.2,416.2 337.9,409.4 334.6,400.2 331.2,411.0 327.9,420.9 323.7,426.7 318.7,429.1 315.4,425.8 311.6,419.0 307.8,417.1 304.6,421.6 301.4,425.5 298.8,421.6 296.9,422.2 294.3,418.4 291.1,426.1 287.2,430.6 284.0,435.1 280.8,428.0 277.0,421.6 273.8,424.7 270.5,421.5 267.3,419.6 262.8,418.3 259.0,411.2 255.8,413.2 252.6,415.1 251.3,414.9 247.8,407.8 244.3,403.6 240.7,400.0 237.2,400.0 233.7,401.4 230.2,394.4 226.6,383.1 224.5,377.5 222.0,380.3 218.9,391.6 215.3,412.7 212.5,429.7 210.1,441.0 206.9,444.5 204.1,442.4 201.2,432.5 198.4,426.8 193.5,422.6 189.2,417.7 185.8,414.7 182.4,410.0 178.9,409.4 176.0,404.2 173.1,399.6 170.8,399.0 167.4,407.6 163.9,412.3 161.0,416.3 158.1,411.7 155.8,412.3 153.5,411.1 150.6,404.2 147.7,399.6 144.3,403.0 141.4,402.4 137.9,402.3 135.0,407.4 131.6,412.0 127.5,418.8 123.5,422.2 121.0,422.9 118.7,420.6 115.8,417.7 112.3,424.7 109.4,431.0 107.1,444.9 104.2,459.3 102.5,457.6 99.6,459.9 96.2,463.4 93.3,464.5 90.4,451.8 88.1,445.4 84.6,444.9 81.7,446.6 78.3,447.8 75.4,444.9 73.1,439.1 70.2,434.5 66.7,431.6 63.2,429.3 61.5,425.8 58.6,426.4 55.2,423.5" fill="#dcdcfd"/><polyline points="55.2,418.7 58.6,421.6 61.5,421.0 63.2,424.5 66.7,426.8 70.2,429.7 73.1,434.3 75.4,440.1 78.3,443.0 81.7,441.8 84.6,440.1 88.1,440.6 90.4,447.0 93.3,459.7 96.2,458.6 99.6,455.1 102.5,452.8 104.2,454.5 107.1,440.1 109.4,426.2 112.3,419.9 115.8,412.9 118.7,415.8 121.0,418.1 123.5,417.4 127.5,413.9 131.6,407.0 135.0,402.3 137.9,397.1 141.4,397.1 144.3,397.7 147.7,394.3 150.6,398.9 153.5,405.8 155.8,407.0 158.1,406.4 161.0,411.0 163.9,407.0 167.4,402.3 170.8,393.7 173.1,394.3 176.0,398.9 178.9,404.1 182.4,404.7 185.8,409.3 189.2,412.3 193.5,417.2 198.4,421.4 201.2,427.1 204.1,437.0 206.9,439.1 210.1,435.6 212.5,424.3 215.3,407.3 218.9,386.2 222.0,374.9 224.5,372.1 226.6,377.7 230.2,389.0 233.7,396.0 237.2,394.6 240.7,394.6 244.3,398.2 247.8,402.4 251.3,409.5 252.6,409.7 255.8,407.8 259.0,405.8 262.8,412.9 267.3,414.2 270.5,416.1 273.8,419.3 277.0,416.1 280.8,422.5 284.0,429.6 287.2,425.1 291.1,420.6 294.3,412.9 296.9,416.7 298.8,416.1 301.4,420.0 304.6,416.1 307.8,411.6 311.6,413.5 315.4,420.3 318.7,423.6 323.7,421.1 327.9,415.2 331.2,405.2 334.6,394.3 337.9,403.5 341.2,410.2 345.4,418.6 350.4,421.1 354.5,423.0 357.5,426.5 360.2,431.4 363.5,436.1 366.1,432.1 369.0,430.7 371.2,432.5 373.7,438.0 377.0,434.3 379.9,437.2 382.1,433.6 385.0,425.5 388.8,423.5 391.6,426.3 394.5,429.3 396.7,428.1 399.7,421.9 403.0,416.0 407.2,410.2 413.1,419.4 418.9,421.9 425.6,420.2 431.5,423.6 435.6,430.3 439.8,442.0 443.1,455.2 445.4,464.5 449.3,461.4 452.3,452.1 455.4,441.3 459.3,444.4 463.1,447.5 467.0,433.6 471.6,425.9 476.2,422.8 480.1,416.7 484.7,410.5 488.6,408.2 491.6,413.6 495.5,427.5 499.4,436.7 503.2,442.9 507.8,446.0 510.0,447.0 512.7,449.4 516.6,453.9 520.4,457.2 523.0,455.2 526.2,459.1 530.0,461.6 533.3,465.5 535.8,462.9 537.8,456.5 539.7,445.0 542.2,434.7 546.1,430.2 549.3,432.1 552.5,435.3 555.1,437.2 558.9,434.0 561.5,427.6 564.1,420.5 567.9,418.6 571.1,418.6 573.9,419.4 576.9,414.8 580.8,404.0 584.6,397.8 588.5,392.4 593.1,397.1 596.2,393.2 600.1,390.9 603.1,388.6 607.0,384.7 610.1,374.7 613.9,359.3 617.0,348.5 620.1,340.6 623.7,342.2 626.4,344.4 629.2,344.4 631.5,349.6 633.9,357.7 637.3,364.1 640.8,368.1 643.1,373.9 645.4,380.8 648.3,375.0 651.8,367.0 654.6,368.7 657.0,364.6 659.8,365.5 661.8,364.6" fill="none" stroke="#dcdcfd" stroke-width="8" stroke-linejoin="round"/></g>
<polyline points="55.2,413.9 58.6,416.8 61.5,416.2 63.2,419.7 66.7,422.0 70.2,424.9 73.1,429.5 75.4,435.3 78.3,438.2 81.7,437.0 84.6,435.3 88.1,435.8 90.4,442.2 93.3,454.9 96.2,453.8 99.6,450.3 102.5,448.0 104.2,449.7 107.1,435.3 109.4,421.4 112.3,415.1 115.8,408.1 118.7,411.0 121.0,413.3 123.5,412.6 127.5,409.0 131.6,402.0 135.0,397.2 137.9,391.9 141.4,391.8 144.3,392.4 147.7,389.0 150.6,393.6 153.5,400.5 155.8,401.7 158.1,401.1 161.0,405.7 163.9,401.7 167.4,397.0 170.8,388.4 173.1,389.0 176.0,393.6 178.9,398.8 182.4,399.4 185.8,403.9 189.2,406.9 193.5,411.8 198.4,416.0 201.2,421.7 204.1,431.6 206.9,433.7 210.1,430.2 212.5,418.9 215.3,401.9 218.9,380.8 222.0,369.5 224.5,366.7 226.6,372.3 230.2,383.6 233.7,390.6 237.2,389.2 240.7,389.2 244.3,392.8 247.8,397.0 251.3,404.1 252.6,404.3 255.8,402.4 259.0,400.4 262.8,407.5 267.3,408.8 270.5,410.7 273.8,413.9 277.0,410.6 280.8,417.0 284.0,424.1 287.2,419.6 291.1,415.1 294.3,407.4 296.9,411.2 298.8,410.6 301.4,414.5 304.6,410.6 307.8,406.1 311.6,408.0 315.4,414.8 318.7,418.1 323.7,415.5 327.9,409.5 331.2,399.4 334.6,388.4 337.9,397.6 341.2,404.2 345.4,412.6 350.4,415.1 354.5,417.0 357.5,420.5 360.2,425.4 363.5,430.1 366.1,426.1 369.0,424.7 371.2,426.5 373.7,432.0 377.0,428.3 379.9,431.2 382.1,427.6 385.0,419.5 388.8,417.5 391.6,420.3 394.5,423.3 396.7,422.1 399.7,415.9 403.0,410.0 407.2,404.2 413.1,413.4 418.9,415.9 425.6,414.2 431.5,417.6 435.6,424.3 439.8,436.0 443.1,449.3 445.4,458.6 449.3,455.6 452.3,446.4 455.4,435.7 459.3,438.9 463.1,442.0 467.0,428.1 471.6,420.5 476.2,417.4 480.1,411.3 484.7,405.2 488.6,402.9 491.6,408.3 495.5,422.2 499.4,431.4 503.2,437.7 507.8,440.8 510.0,441.8 512.7,444.2 516.6,448.8 520.4,452.1 523.0,450.1 526.2,454.0 530.0,456.5 533.3,460.5 535.8,457.9 537.8,451.5 539.7,440.0 542.2,429.6 546.1,424.9 549.3,426.7 552.5,429.8 555.1,431.5 558.9,428.2 561.5,421.7 564.1,414.5 567.9,412.4 571.1,412.3 573.9,413.1 576.9,408.5 580.8,397.7 584.6,391.5 588.5,386.2 593.1,390.9 596.2,387.0 600.1,384.7 603.1,382.4 607.0,378.5 610.1,368.5 613.9,353.1 617.0,342.4 620.1,334.5 623.7,336.1 626.4,338.3 629.2,338.3 631.5,343.5 633.9,351.6 637.3,358.0 640.8,362.0 643.1,367.8 645.4,374.7 648.3,369.0 651.8,361.0 654.6,362.7 657.0,358.6 659.8,359.5 661.8,358.6" fill="none" stroke="#b4b4f8" stroke-width="0.8" stroke-linejoin="round"/>
<polyline points="55.2,423.5 58.6,426.4 61.5,425.8 63.2,429.3 66.7,431.6 70.2,434.5 73.1,439.1 75.4,444.9 78.3,447.8 81.7,446.6 84.6,444.9 88.1,445.4 90.4,451.8 93.3,464.5 96.2,463.4 99.6,459.9 102.5,457.6 104.2,459.3 107.1,444.9 109.4,431.0 112.3,424.7 115.8,417.7 118.7,420.6 121.0,422.9 123.5,422.2 127.5,418.8 131.6,412.0 135.0,407.4 137.9,402.3 141.4,402.4 144.3,403.0 147.7,399.6 150.6,404.2 153.5,411.1 155.8,412.3 158.1,411.7 161.0,416.3 163.9,412.3 167.4,407.6 170.8,399.0 173.1,399.6 176.0,404.2 178.9,409.4 182.4,410.0 185.8,414.7 189.2,417.7 193.5,422.6 198.4,426.8 201.2,432.5 204.1,442.4 206.9,444.5 210.1,441.0 212.5,429.7 215.3,412.7 218.9,391.6 222.0,380.3 224.5,377.5 226.6,383.1 230.2,394.4 233.7,401.4 237.2,400.0 240.7,400.0 244.3,403.6 247.8,407.8 251.3,414.9 252.6,415.1 255.8,413.2 259.0,411.2 262.8,418.3 267.3,419.6 270.5,421.5 273.8,424.7 277.0,421.6 280.8,428.0 284.0,435.1 287.2,430.6 291.1,426.1 294.3,418.4 296.9,422.2 298.8,421.6 301.4,425.5 304.6,421.6 307.8,417.1 311.6,419.0 315.4,425.8 318.7,429.1 323.7,426.7 327.9,420.9 331.2,411.0 334.6,400.2 337.9,409.4 341.2,416.2 345.4,424.6 350.4,427.1 354.5,429.0 357.5,432.5 360.2,437.4 363.5,442.1 366.1,438.1 369.0,436.7 371.2,438.5 373.7,444.0 377.0,440.3 379.9,443.2 382.1,439.6 385.0,431.5 388.8,429.5 391.6,432.3 394.5,435.3 396.7,434.1 399.7,427.9 403.0,422.0 407.2,416.2 413.1,425.4 418.9,427.9 425.6,426.2 431.5,429.6 435.6,436.3 439.8,448.0 443.1,461.1 445.4,470.4 449.3,467.2 452.3,457.8 455.4,446.9 459.3,449.9 463.1,453.0 467.0,439.1 471.6,431.3 476.2,428.2 480.1,422.1 484.7,415.8 488.6,413.5 491.6,418.9 495.5,432.8 499.4,442.0 503.2,448.1 507.8,451.2 510.0,452.2 512.7,454.6 516.6,459.0 520.4,462.3 523.0,460.3 526.2,464.2 530.0,466.7 533.3,470.5 535.8,467.9 537.8,461.5 539.7,450.0 542.2,439.8 546.1,435.5 549.3,437.5 552.5,440.8 555.1,442.9 558.9,439.8 561.5,433.5 564.1,426.5 567.9,424.8 571.1,424.9 573.9,425.7 576.9,421.1 580.8,410.3 584.6,404.1 588.5,398.6 593.1,403.3 596.2,399.4 600.1,397.1 603.1,394.8 607.0,390.9 610.1,380.9 613.9,365.5 617.0,354.6 620.1,346.7 623.7,348.3 626.4,350.5 629.2,350.5 631.5,355.7 633.9,363.8 637.3,370.2 640.8,374.2 643.1,380.0 645.4,386.9 648.3,381.0 651.8,373.0 654.6,374.7 657.0,370.6 659.8,371.5 661.8,370.6" fill="none" stroke="#b4b4f8" stroke-width="0.8" stroke-linejoin="round"/>
<polyline points="55.2,418.7 58.6,421.6 61.5,421.0 63.2,424.5 66.7,426.8 70.2,429.7 73.1,434.3 75.4,440.1 78.3,443.0 81.7,441.8 84.6,440.1 88.1,440.6 90.4,447.0 93.3,459.7 96.2,458.6 99.6,455.1 102.5,452.8 104.2,454.5 107.1,440.1 109.4,426.2 112.3,419.9 115.8,412.9 118.7,415.8 121.0,418.1 123.5,417.4 127.5,413.9 131.6,407.0 135.0,402.3 137.9,397.1 141.4,397.1 144.3,397.7 147.7,394.3 150.6,398.9 153.5,405.8 155.8,407.0 158.1,406.4 161.0,411.0 163.9,407.0 167.4,402.3 170.8,393.7 173.1,394.3 176.0,398.9 178.9,404.1 182.4,404.7 185.8,409.3 189.2,412.3 193.5,417.2 198.4,421.4 201.2,427.1 204.1,437.0 206.9,439.1 210.1,435.6 212.5,424.3 215.3,407.3 218.9,386.2 222.0,374.9 224.5,372.1 226.6,377.7 230.2,389.0 233.7,396.0 237.2,394.6 240.7,394.6 244.3,398.2 247.8,402.4 251.3,409.5 252.6,409.7 255.8,407.8 259.0,405.8 262.8,412.9 267.3,414.2 270.5,416.1 273.8,419.3 277.0,416.1 280.8,422.5 284.0,429.6 287.2,425.1 291.1,420.6 294.3,412.9 296.9,416.7 298.8,416.1 301.4,420.0 304.6,416.1 307.8,411.6 311.6,413.5 315.4,420.3 318.7,423.6 323.7,421.1 327.9,415.2 331.2,405.2 334.6,394.3 337.9,403.5 341.2,410.2 345.4,418.6 350.4,421.1 354.5,423.0 357.5,426.5 360.2,431.4 363.5,436.1 366.1,432.1 369.0,430.7 371.2,432.5 373.7,438.0 377.0,434.3 379.9,437.2 382.1,433.6 385.0,425.5 388.8,423.5 391.6,426.3 394.5,429.3 396.7,428.1 399.7,421.9 403.0,416.0 407.2,410.2 413.1,419.4 418.9,421.9 425.6,420.2 431.5,423.6 435.6,430.3 439.8,442.0 443.1,455.2 445.4,464.5 449.3,461.4 452.3,452.1 455.4,441.3 459.3,444.4 463.1,447.5 467.0,433.6 471.6,425.9 476.2,422.8 480.1,416.7 484.7,410.5 488.6,408.2 491.6,413.6 495.5,427.5 499.4,436.7 503.2,442.9 507.8,446.0 510.0,447.0 512.7,449.4 516.6,453.9 520.4,457.2 523.0,455.2 526.2,459.1 530.0,461.6 533.3,465.5 535.8,462.9 537.8,456.5 539.7,445.0 542.2,434.7 546.1,430.2 549.3,432.1 552.5,435.3 555.1,437.2 558.9,434.0 561.5,427.6 564.1,420.5 567.9,418.6 571.1,418.6 573.9,419.4 576.9,414.8 580.8,404.0 584.6,397.8 588.5,392.4 593.1,397.1 596.2,393.2 600.1,390.9 603.1,388.6 607.0,384.7 610.1,374.7 613.9,359.3 617.0,348.5 620.1,340.6 623.7,342.2 626.4,344.4 629.2,344.4 631.5,349.6 633.9,357.7 637.3,364.1 640.8,368.1 643.1,373.9 645.4,380.8 648.3,375.0 651.8,367.0 654.6,368.7 657.0,364.6 659.8,365.5 661.8,364.6" fill="none" stroke="#5a5af0" stroke-width="1.2" stroke-linejoin="round"/></g>

<line x1="179.7" y1="316.5" x2="179.7" y2="511" stroke="#1c1c1c" stroke-width="2.3"/>
<line x1="313.3" y1="316.5" x2="313.3" y2="511" stroke="#1c1c1c" stroke-width="2.3"/>
<line x1="435.4" y1="316.5" x2="435.4" y2="511" stroke="#1c1c1c" stroke-width="2.3"/>
<line x1="337.2" y1="316.2" x2="337.2" y2="511.5" stroke="#1c1c1c" stroke-width="2.4" stroke-dasharray="9.2 9.9"/>
<rect x="314" y="463.2" width="119.3" height="9.5" fill="#6f72b8"/>
<text x="376.5" y="484" font-size="12" font-weight="bold" text-anchor="middle" fill="#000">Art + Noun</text>
<rect x="314" y="494" width="119.5" height="9.1" fill="#f7941d"/>
<text x="376.1" y="513.7" font-size="12" font-weight="bold" text-anchor="middle" fill="#000">Cl + Verb</text>

<!-- bar chart -->
<rect x="71.8" y="630" width="55.6" height="118" fill="#f7941d"/>
<rect x="141.5" y="733.8" width="55.7" height="14.2" fill="#6f72b8"/>
<line x1="49" y1="748" x2="219.2" y2="748" stroke="#555" stroke-width="1.5"/>
<path d="M99.4,630 V557 M91.1,557 H108" stroke="#4b4c93" stroke-width="1.5" fill="none"/>
<path d="M169.3,733.8 V676.3 M161,676.3 H178" stroke="#4b4c93" stroke-width="1.5" fill="none"/>
<path d="M98.8,546.2 V535.7 H168.7 V663.1" stroke="#9094d6" stroke-width="1.4" fill="none"/>
<text x="134.6" y="535.8" font-size="12" font-weight="bold" text-anchor="middle" fill="#000">*</text>
<text x="97.2" y="763" font-size="12" font-weight="bold" text-anchor="middle" fill="#000">Cl + Verb</text>
<text x="169.8" y="763" font-size="12" font-weight="bold" text-anchor="middle" fill="#000">Art + Noun</text>
<text transform="translate(12.6,644.3) rotate(-90)" font-size="15.5" text-anchor="middle" fill="#000">Total Power (dbμV<tspan font-size="10" dy="-5">2</tspan><tspan dy="5">/Hz)</tspan></text>

<!-- scatter -->
<line x1="317" y1="544" x2="317" y2="738.4" stroke="#3b2416" stroke-width="1.5"/>
<path d="M317,537.1 L311.4,546 L322.6,546 Z" fill="#3b2416"/>
<line x1="317" y1="738.4" x2="652" y2="738.4" stroke="#3b2416" stroke-width="1.5"/>
<path d="M659,738.4 L649.7,733.9 L649.7,743 Z" fill="#3b2416"/>
<text x="305.1" y="572.2" font-size="12" text-anchor="end" fill="#111">8</text>
<text x="305.1" y="617.2" font-size="12" text-anchor="end" fill="#111">4</text>
<text x="305.1" y="664.3" font-size="12" text-anchor="end" fill="#111">0</text>
<text x="305.1" y="716" font-size="12" text-anchor="end" fill="#111">-4</text>
<text x="340.4" y="755.3" font-size="12" text-anchor="middle" fill="#111">0</text>
<text x="390.5" y="755.3" font-size="12" text-anchor="middle" fill="#111">1</text>
<text x="440.5" y="755.3" font-size="12" text-anchor="middle" fill="#111">2</text>
<text x="490.6" y="755.3" font-size="12" text-anchor="middle" fill="#111">3</text>
<text x="540.5" y="755.3" font-size="12" text-anchor="middle" fill="#111">4</text>
<text x="591" y="755.3" font-size="12" text-anchor="middle" fill="#111">5</text>
<text x="494.5" y="774.4" font-size="16.2" text-anchor="middle" fill="#111">Suprisal (art/cl)</text>
<text transform="translate(284,641.9) rotate(-90)" font-size="16" text-anchor="middle" fill="#111">Normalized Power (dbμV<tspan font-size="10" dy="-5">2</tspan><tspan dy="5">/Hz)</tspan></text>
<path d="M451.9,548.4 C456.5,580 459.5,620 458.4,645 C457.5,680 455,705 453.1,731" stroke="#666" stroke-width="1.5" fill="none"/>
<g fill="none" stroke="#6a6dbe" stroke-width="1.5">
<circle cx="329.9" cy="664.2" r="2.6"/>
<circle cx="359.9" cy="663.5" r="2.6"/>
<circle cx="366" cy="663.5" r="2.6"/>
<circle cx="378.1" cy="654.6" r="2.6"/>
<circle cx="376.6" cy="666.7" r="2.6"/>
<circle cx="380.3" cy="671.7" r="2.6"/>
<circle cx="379.4" cy="679.4" r="2.6"/>
<circle cx="385.3" cy="681" r="2.6"/>
<circle cx="376.6" cy="690.7" r="2.6"/>
<circle cx="398.4" cy="683.1" r="2.6"/>
<circle cx="407.6" cy="683.8" r="2.6"/>
<circle cx="414.9" cy="682.3" r="2.6"/>
<circle cx="411.2" cy="688.2" r="2.6"/>
<circle cx="414.9" cy="698.4" r="2.6"/>
<circle cx="425" cy="613.9" r="2.6"/>
<circle cx="423.5" cy="659" r="2.6"/>
<circle cx="426.2" cy="673.3" r="2.6"/>
<circle cx="439.3" cy="674.3" r="2.6"/>
<circle cx="439.3" cy="675.5" r="2.6"/>
<circle cx="432.1" cy="684.4" r="2.6"/>
<circle cx="453" cy="689.7" r="2.6"/>
<circle cx="423.5" cy="699.7" r="2.6"/>
<circle cx="439.3" cy="702.9" r="2.6"/>
<circle cx="460.1" cy="704.9" r="2.6"/>
<circle cx="460.3" cy="668.7" r="2.6"/>
<circle cx="485.3" cy="684" r="2.6"/>
<circle cx="541" cy="681.1" r="2.6"/>
<circle cx="551" cy="669.3" r="2.6"/>
</g>
<g fill="none" stroke="#f7941d" stroke-width="1.5">
<circle cx="409.9" cy="642.5" r="2.6"/>
<circle cx="443.9" cy="646.9" r="2.6"/>
<circle cx="423.5" cy="667.5" r="2.6"/>
<circle cx="414.8" cy="675.7" r="2.6"/>
<circle cx="460.9" cy="662.9" r="2.6"/>
<circle cx="458.7" cy="673.9" r="2.6"/>
<circle cx="481.7" cy="673.5" r="2.6"/>
<circle cx="488.2" cy="559.6" r="2.6"/>
<circle cx="476.1" cy="577.3" r="2.6"/>
<circle cx="503.5" cy="613.9" r="2.6"/>
<circle cx="491.2" cy="620.9" r="2.6"/>
<circle cx="500.4" cy="621.6" r="2.6"/>
<circle cx="500.4" cy="630.6" r="2.6"/>
<circle cx="500.4" cy="638.1" r="2.6"/>
<circle cx="491.2" cy="646.3" r="2.6"/>
<circle cx="500.4" cy="651.3" r="2.6"/>
<circle cx="511.6" cy="655.1" r="2.6"/>
<circle cx="512" cy="654.4" r="2.6"/>
<circle cx="535.8" cy="651" r="2.6"/>
<circle cx="491.2" cy="661.3" r="2.6"/>
<circle cx="495" cy="661.8" r="2.6"/>
<circle cx="485.4" cy="665.6" r="2.6"/>
<circle cx="500.4" cy="667.8" r="2.6"/>
<circle cx="495" cy="670.7" r="2.6"/>
<circle cx="491.2" cy="675.2" r="2.6"/>
<circle cx="491.2" cy="674.4" r="2.6"/>
<circle cx="530.7" cy="681.3" r="2.6"/>
<circle cx="556.6" cy="678.6" r="2.6"/>
<circle cx="566.7" cy="677.7" r="2.6"/>
<circle cx="512.8" cy="688.8" r="2.6"/>
<circle cx="490.5" cy="715.7" r="2.6"/>
</g>
<line x1="586" y1="677.5" x2="608" y2="677.5" stroke="#5a5eb5" stroke-width="1.5"/>
<line x1="586" y1="691" x2="608" y2="691" stroke="#f7941d" stroke-width="1.5"/>
<text x="615" y="682.3" font-size="12" fill="#111">N</text>
<text x="615" y="696.1" font-size="12" fill="#111">V</text>
<text x="589.3" y="711.5" font-size="12" font-weight="bold" text-anchor="middle" fill="#111">*</text>
<text x="603.3" y="707.5" font-size="12.2" fill="#111">p&lt;0.05</text>
<text x="586.4" y="725.1" font-size="12.1" fill="#111">Score = 83%</text>
</svg>
</body></html>
